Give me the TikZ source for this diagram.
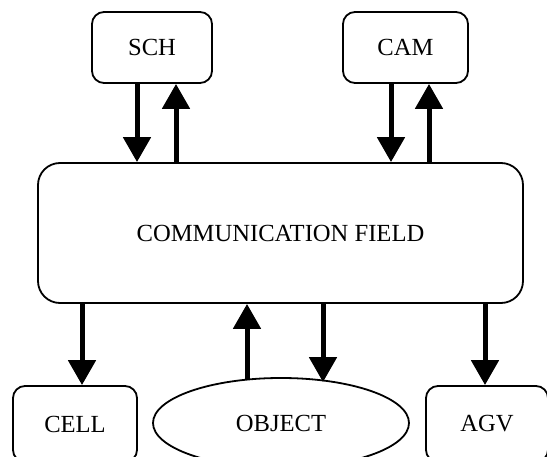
\documentclass[tikz,border=0pt]{standalone}
\usepackage{fontspec}
\setmainfont{Liberation Serif}
\usetikzlibrary{arrows.meta,calc,shapes.geometric}
\begin{document}
\begin{tikzpicture}[x=1pt,y=-1pt,
  box/.style={draw,line width=1.8pt,rounded corners=12pt,inner sep=0pt,font=\fontsize{24.6}{27}\selectfont},
  bigbox/.style={box,rounded corners=22pt},
  oval/.style={draw,ellipse,line width=1.8pt,inner sep=0pt,font=\fontsize{24.6}{27}\selectfont},
  flow/.style={line width=5pt,-{Triangle[width=27pt,length=25pt]}}]
\useasboundingbox (0,0) rectangle (547,457);
\node[box,minimum width=120pt,minimum height=71pt] (sch) at (152,47.5) {SCH};
\node[box,minimum width=125pt,minimum height=71pt] (cam) at (405.5,47.5) {CAM};
\node[bigbox,minimum width=485pt,minimum height=140pt] (comm) at (280.5,233) {COMMUNICATION FIELD};
\node[box,minimum width=124pt,minimum height=76pt] (cell) at (75,424) {CELL};
\node[box,minimum width=122pt,minimum height=76pt] (agv) at (487,424) {AGV};
\node[oval,minimum width=256pt,minimum height=90pt] (obj) at (281,423) {OBJECT};
% SCH
\draw[flow] (sch.south -| 137,0) -- (comm.north -| 137,0);
\draw[flow] (comm.north -| 176,0) -- (sch.south -| 176,0);
% CAM
\draw[flow] (cam.south -| 391,0) -- (comm.north -| 391,0);
\draw[flow] (comm.north -| 429,0) -- (cam.south -| 429,0);
% bottom
\draw[flow] (comm.south -| 82,0) -- (cell.north -| 82,0);
\draw[flow] ($(obj.north -| 247,0)+(0,2)$) -- (comm.south -| 247,0);
\draw[flow] (comm.south -| 323,0) -- ($(obj.north -| 323,0)+(0,5)$);
\draw[flow] (comm.south -| 485,0) -- (agv.north -| 485,0);
\end{tikzpicture}
\end{document}
